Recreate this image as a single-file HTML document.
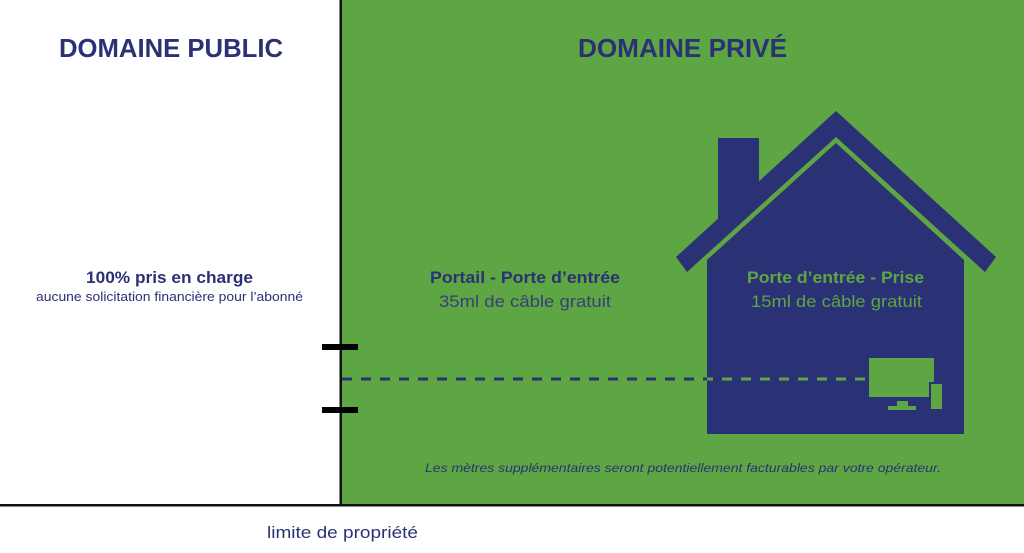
<!DOCTYPE html>
<html><head><meta charset="utf-8"><style>
html,body{margin:0;padding:0;background:#fff;}
svg{display:block;}
text{font-family:"Liberation Sans",sans-serif;}
</style></head><body>
<svg width="1024" height="553" viewBox="0 0 1024 553" xmlns="http://www.w3.org/2000/svg">
<rect x="0" y="0" width="1024" height="553" fill="#fff"/>
<rect x="341" y="0" width="683" height="505" fill="#5ea543"/>
<rect x="339.5" y="0" width="2.5" height="506" fill="#111"/>
<rect x="0" y="504" width="1024" height="2.5" fill="#111"/>
<rect x="322" y="344" width="36" height="6" fill="#000"/>
<rect x="322" y="407" width="36" height="6" fill="#000"/>

<!-- house -->
<polygon points="718,138 759,138 759,204 718,241" fill="#2b3175"/>
<polygon points="676,257 836,111 996,257 985,272 836,137 687,272" fill="#2b3175"/>
<polygon points="707,260 836,143 964,260 964,434 707,434" fill="#2b3175"/>
<!-- devices -->
<rect x="869" y="358" width="65" height="39" fill="#5ea543"/>
<rect x="897" y="401" width="11" height="6" fill="#5ea543"/>
<rect x="888" y="406" width="28" height="4" fill="#5ea543"/>
<rect x="929" y="382" width="15" height="30" fill="#2b3175"/>
<rect x="931" y="384" width="11" height="25" fill="#5ea543"/>

<!-- dashed line -->
<line x1="342" y1="379" x2="707" y2="379" stroke="#2b3175" stroke-width="3" stroke-dasharray="10,9"/>
<line x1="707" y1="379" x2="869" y2="379" stroke="#5ea543" stroke-width="3" stroke-dasharray="10,9" stroke-dashoffset="4"/>

<!-- texts -->
<text x="59" y="57" font-size="26" font-weight="bold" fill="#2b3175" textLength="224" lengthAdjust="spacingAndGlyphs">DOMAINE PUBLIC</text>
<text x="578" y="57" font-size="26" font-weight="bold" fill="#2b3175" textLength="209" lengthAdjust="spacingAndGlyphs">DOMAINE PRIVÉ</text>
<text x="86" y="283" font-size="17" font-weight="bold" fill="#2b3175" textLength="167" lengthAdjust="spacingAndGlyphs">100% pris en charge</text>
<text x="36" y="301" font-size="13" fill="#2b3175" textLength="267" lengthAdjust="spacingAndGlyphs">aucune solicitation financière pour l’abonné</text>
<text x="430" y="283" font-size="17" font-weight="bold" fill="#2b3175" textLength="190" lengthAdjust="spacingAndGlyphs">Portail - Porte d’entrée</text>
<text x="439" y="307" font-size="17" fill="#3a3f78" textLength="172" lengthAdjust="spacingAndGlyphs">35ml de câble gratuit</text>
<text x="747" y="283" font-size="17" font-weight="bold" fill="#5ea543" textLength="177" lengthAdjust="spacingAndGlyphs">Porte d’entrée - Prise</text>
<text x="751" y="307" font-size="17" fill="#5ea543" textLength="171" lengthAdjust="spacingAndGlyphs">15ml de câble gratuit</text>
<text x="425" y="472" font-size="12" font-style="italic" fill="#2b3175" textLength="516" lengthAdjust="spacingAndGlyphs">Les mètres supplémentaires seront potentiellement facturables par votre opérateur.</text>
<text x="267" y="538" font-size="17" fill="#2b3175" textLength="151" lengthAdjust="spacingAndGlyphs">limite de propriété</text>
</svg>
</body></html>
